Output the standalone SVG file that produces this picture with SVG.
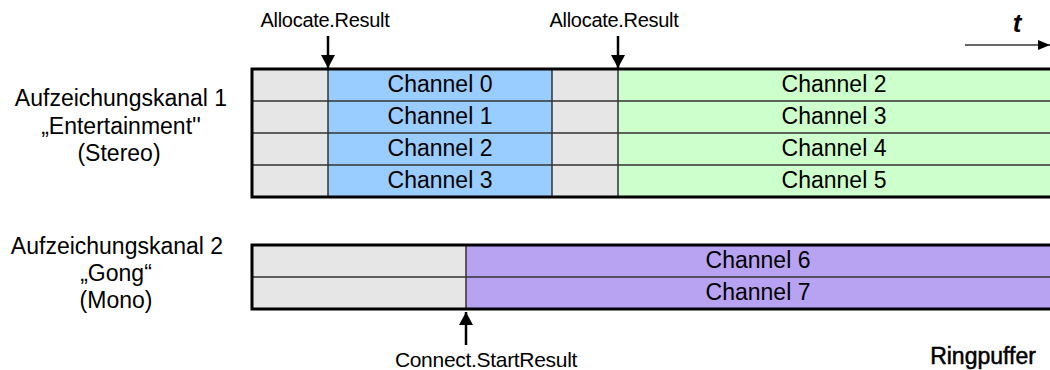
<svg xmlns="http://www.w3.org/2000/svg" width="1050" height="370" viewBox="0 0 1050 370">
<defs>
<marker id="ah" viewBox="0 0 13 14" refX="13" refY="7" markerWidth="13" markerHeight="14" markerUnits="userSpaceOnUse" orient="auto">
<path d="M0,0 L13,7 L0,14 z" fill="#000"/>
</marker>
<marker id="ahs" viewBox="0 0 12 10" refX="12" refY="5" markerWidth="12" markerHeight="10" markerUnits="userSpaceOnUse" orient="auto">
<path d="M0,0 L12,5 L0,10 z" fill="#000"/>
</marker>
<style>
text{font-family:"Liberation Sans",Arial,sans-serif;fill:#000}
.ch{font-size:23px;text-anchor:middle}
.lbl{font-size:23px;text-anchor:middle}
.ev{font-size:20px;text-anchor:middle;letter-spacing:-0.3px}
.grid{stroke:#333;stroke-width:1.5;fill:none}
.outer{stroke:#000;stroke-width:3;fill:none}
.gray{fill:#e6e6e6}.blue{fill:#99ccff}.green{fill:#ccffcc}.purple{fill:#b8a2f2}
.arr{stroke:#000;stroke-width:2.5;fill:none}
</style>
</defs>
<g id="label1">
<text class="lbl" x="121" y="106">Aufzeichungskanal 1</text>
<text class="lbl" x="121" y="134">„Entertainment''</text>
<text class="lbl" x="119" y="161">(Stereo)</text>
</g>
<g id="label2">
<text class="lbl" x="117" y="254">Aufzeichungskanal 2</text>
<text class="lbl" x="116" y="281">„Gong“</text>
<text class="lbl" x="116" y="308">(Mono)</text>
</g>
<g id="buffer1">
<rect class="gray" x="252" y="69" width="76" height="128"/>
<rect class="blue" x="328" y="69" width="224" height="128"/>
<rect class="gray" x="552" y="69" width="66" height="128"/>
<rect class="green" x="618" y="69" width="440" height="128"/>
<path class="grid" d="M252,101H1055M252,133H1055M252,165H1055M328,69V197M552,69V197M618,69V197"/>
<rect class="outer" x="252" y="69" width="810" height="128"/>
<text class="ch" x="440" y="91.5">Channel 0</text>
<text class="ch" x="440" y="123.5">Channel 1</text>
<text class="ch" x="440" y="155.5">Channel 2</text>
<text class="ch" x="440" y="187.5">Channel 3</text>
<text class="ch" x="834" y="91.5">Channel 2</text>
<text class="ch" x="834" y="123.5">Channel 3</text>
<text class="ch" x="834" y="155.5">Channel 4</text>
<text class="ch" x="834" y="187.5">Channel 5</text>
</g>
<g id="buffer2">
<rect class="gray" x="252" y="245" width="214" height="64"/>
<rect class="purple" x="466" y="245" width="592" height="64"/>
<path class="grid" d="M252,277H1055M466,245V309"/>
<rect class="outer" x="252" y="245" width="810" height="64"/>
<text class="ch" x="758" y="267.5">Channel 6</text>
<text class="ch" x="758" y="299.5">Channel 7</text>
</g>
<g id="events">
<text class="ev" x="325" y="27">Allocate.Result</text>
<text class="ev" x="614" y="27">Allocate.Result</text>
<text class="ev" x="486" y="367" style="font-size:21px">Connect.StartResult</text>
</g>
<g id="time">
<text x="1017" y="32" style="font-size:26px;font-style:italic;font-weight:bold;text-anchor:middle">t</text>
</g>
<text id="ringpuffer" x="983" y="364" style="font-size:23px;text-anchor:middle;stroke:#000;stroke-width:0.5">Ringpuffer</text>
<g id="connectors">
<line class="arr" x1="328" y1="36" x2="328" y2="68" marker-end="url(#ah)"/>
<line class="arr" x1="618" y1="36" x2="618" y2="68" marker-end="url(#ah)"/>
<line class="arr" x1="466" y1="345" x2="466" y2="312" marker-end="url(#ah)"/>
<line x1="965" y1="45" x2="1050" y2="45" stroke="#333" stroke-width="1.5" marker-end="url(#ahs)"/>
</g>
</svg>
